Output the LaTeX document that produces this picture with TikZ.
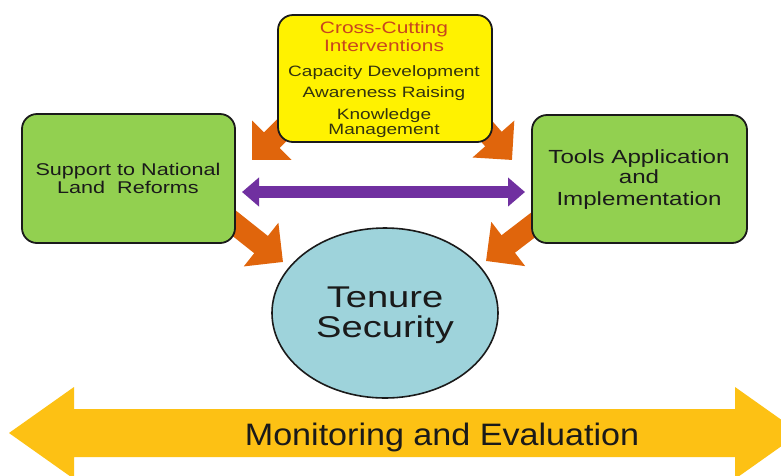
\documentclass[tikz,border=0pt]{standalone}
\usepackage{fontspec}
\setmainfont{Liberation Sans}
\newfontfamily\wf[FakeStretch=1.27]{Liberation Sans}
\newfontfamily\mf[FakeStretch=1.1]{Liberation Sans}
\usetikzlibrary{arrows.meta,shapes.geometric}
\definecolor{orangeA}{HTML}{E0650C}
\definecolor{purpleA}{HTML}{7030A0}
\definecolor{goldA}{HTML}{FDC114}
\definecolor{greenA}{HTML}{92D050}
\definecolor{blueA}{HTML}{9ED3DB}
\definecolor{titleA}{HTML}{C8461E}
\definecolor{oliveA}{HTML}{33330F}
\definecolor{edgeA}{HTML}{1A1A1A}
\tikzset{
  gbox/.style={draw=edgeA, line width=1.8pt, fill=greenA, rounded corners=15pt, inner sep=0pt},
  ybox/.style={draw=edgeA, line width=1.8pt, fill=yellow, rounded corners=15pt, inner sep=0pt},
  txt/.style={inner sep=0pt, anchor=base, text=edgeA},
  ytxt/.style={inner sep=0pt, anchor=base, text=oliveA, font=\wf\fontsize{15}{15}\selectfont},
  ttl/.style={inner sep=0pt, anchor=base, text=titleA, font=\wf\fontsize{16.5}{16.5}\selectfont},
  oarrow/.style={draw=orangeA, line width=22pt, -{Triangle[length=28pt,width=54pt]}},
  parrow/.style={draw=purpleA, line width=12pt, {Triangle[length=17pt,width=28pt]}-{Triangle[length=17pt,width=28pt]}},
}
\begin{document}
\begin{tikzpicture}[x=1pt,y=-1pt]
\clip (0,0) rectangle (781,475);
\fill[white] (0,0) rectangle (781,475);
% big Monitoring arrow
\fill[goldA] (9,433) -- (74,387) -- (74,409) -- (735,409) -- (735,387) -- (800,433)
  -- (735,479) -- (735,457) -- (74,457) -- (74,479) -- cycle;
\node[inner sep=0pt, anchor=base, text=edgeA, font=\mf\fontsize{31}{31}\selectfont] (me) at (442,445) {Monitoring and Evaluation};
% coordinates for orange arrows
\coordinate (a1s) at (304,108);
\coordinate (a1t) at (252,160);
\coordinate (a2s) at (466,108);
\coordinate (a2t) at (512,160);
\coordinate (a3s) at (220,212);
\coordinate (a3t) at (283,262);
\coordinate (a4s) at (550,212);
\coordinate (a4t) at (486,261);
\draw[oarrow] (a1s) -- (a1t);
\draw[oarrow] (a2s) -- (a2t);
\draw[oarrow] (a3s) -- (a3t);
\draw[oarrow] (a4s) -- (a4t);
% boxes
\node[ybox, minimum width=214pt, minimum height=127pt] (cc) at (385,78.5) {};
\node[gbox, minimum width=213pt, minimum height=129pt] (snlr) at (128.5,178.5) {};
\node[gbox, minimum width=215pt, minimum height=128pt] (taai) at (639.5,179) {};
\node[ellipse, draw=edgeA, line width=1.6pt, fill=blueA, minimum width=226pt, minimum height=170pt, inner sep=0pt] (ts) at (385,313) {};
% purple arrow
\coordinate (pl) at (242,192);
\coordinate (pr) at (525,192);
\draw[parrow] (pl) -- (pr);
% texts
\node[ttl] (t1) at (384,33.3) {Cross-Cutting};
\node[ttl] (t2) at (384,51.7) {Interventions};
\node[ytxt] (t3) at (384,76) {Capacity Development};
\node[ytxt] (t4) at (384,97.3) {Awareness Raising};
\node[ytxt] (t5) at (384,119) {Knowledge};
\node[ytxt] (t6) at (384,134) {Management};
\node[txt, font=\wf\fontsize{17}{17}\selectfont] (l1) at (128,175) {Support to National};
\node[txt, font=\wf\fontsize{17}{17}\selectfont] (l2) at (128,193) {Land\ \ Reforms};
\node[txt, font=\wf\fontsize{19}{19}\selectfont] (r1) at (639,163.3) {Tools Application};
\node[txt, font=\wf\fontsize{19}{19}\selectfont] (r2) at (639,183.3) {and};
\node[txt, font=\wf\fontsize{19}{19}\selectfont] (r3) at (639,205) {Implementation};
\node[txt, font=\wf\fontsize{30}{30}\selectfont] (e1) at (385,307) {Tenure};
\node[txt, font=\wf\fontsize{30}{30}\selectfont] (e2) at (385,337) {Security};
\end{tikzpicture}
\end{document}
